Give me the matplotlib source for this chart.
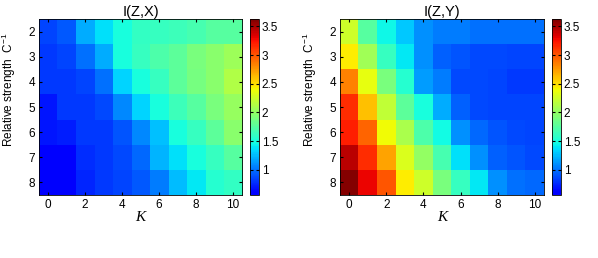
import numpy as np
import matplotlib
matplotlib.use("Agg")
import matplotlib.pyplot as plt
from matplotlib.colors import ListedColormap

plt.rcParams['font.family'] = ['Liberation Sans', 'DejaVu Sans']
plt.rcParams['mathtext.fontset'] = 'custom'
plt.rcParams['mathtext.rm'] = 'Liberation Sans'
plt.rcParams['mathtext.it'] = 'Liberation Sans:italic'

# data: rows are C = 2..8, columns are K = 0..10
K = np.arange(0, 11)
C = np.arange(2, 9)

I_ZX = np.array([
    [0.85, 0.92, 1.20, 1.38, 1.50, 1.60, 1.62, 1.65, 1.68, 1.75, 1.75],
    [0.82, 0.85, 1.00, 1.20, 1.50, 1.62, 1.72, 1.78, 1.90, 1.97, 2.05],
    [0.80, 0.82, 0.85, 1.00, 1.33, 1.50, 1.62, 1.78, 1.88, 1.97, 2.12],
    [0.70, 0.80, 0.82, 0.87, 1.08, 1.33, 1.50, 1.65, 1.75, 1.90, 2.02],
    [0.70, 0.72, 0.80, 0.82, 0.90, 1.08, 1.27, 1.50, 1.62, 1.78, 1.97],
    [0.62, 0.62, 0.77, 0.82, 0.87, 0.97, 1.22, 1.38, 1.50, 1.62, 1.75],
    [0.57, 0.57, 0.75, 0.80, 0.85, 0.92, 1.05, 1.25, 1.40, 1.55, 1.60],
])

I_ZY = np.array([
    [2.25, 1.75, 1.45, 1.30, 1.10, 1.05, 1.05, 1.00, 1.00, 1.00, 1.00],
    [2.45, 2.07, 1.62, 1.40, 1.10, 0.95, 0.90, 0.87, 0.87, 0.85, 0.85],
    [2.85, 2.35, 1.90, 1.55, 1.15, 1.05, 0.87, 0.87, 0.85, 0.82, 0.82],
    [3.15, 2.62, 2.20, 1.78, 1.50, 1.20, 0.95, 0.87, 0.85, 0.85, 0.85],
    [3.20, 2.95, 2.40, 2.10, 1.70, 1.47, 1.10, 0.97, 0.90, 0.87, 0.85],
    [3.45, 3.15, 2.72, 2.30, 2.00, 1.68, 1.38, 1.10, 0.95, 0.90, 0.87],
    [3.60, 3.30, 3.00, 2.45, 2.25, 1.90, 1.62, 1.40, 1.10, 1.00, 0.97],
])

titles = ["I(Z,X)", "I(Z,Y)"]
cbar_ticks = [1, 1.5, 2, 2.5, 3, 3.5]
vmin, vmax = 0.56, 3.63

# jet starting from pure blue
cmap = ListedColormap(plt.cm.jet(np.linspace(0.11, 1.0, 256)))

fig = plt.figure(figsize=(5.98, 2.58), dpi=100)
ax_pos = [[0.0652, 0.2442, 0.3395, 0.682], [0.5686, 0.2442, 0.341, 0.682]]
cb_pos = [[0.418, 0.2442, 0.015, 0.682], [0.923, 0.2442, 0.015, 0.682]]

for i, data in enumerate([I_ZX, I_ZY]):
    ax = fig.add_axes(ax_pos[i])
    im = ax.imshow(data, cmap=cmap, vmin=vmin, vmax=vmax, aspect='auto',
                   interpolation='nearest',
                   extent=[K[0] - 0.5, K[-1] + 0.5, C[-1] + 0.5, C[0] - 0.5])
    ax.set_xticks(K[::2])
    ax.set_yticks(C)
    ax.tick_params(direction='in', length=2, labelsize=8.5, top=True, right=True, pad=3)
    ax.set_title(titles[i], fontsize=10.5, pad=2)
    ax.set_xlabel("K", fontsize=11, family='Liberation Serif', style='italic', labelpad=0)
    ax.set_ylabel(r"Relative strength  C$^{\mathrm{-1}}$", fontsize=8.5)
    ax.yaxis.set_label_coords(-0.105, 0.6)
    for s in ax.spines.values():
        s.set_linewidth(0.6)

    cax = fig.add_axes(cb_pos[i])
    cb = fig.colorbar(im, cax=cax, ticks=cbar_ticks)
    cb.ax.set_yticklabels(["1", "1.5", "2", "2.5", "3", "3.5"])
    cb.ax.tick_params(direction='in', length=2, labelsize=8.5, left=True, right=True, pad=2)
    cb.outline.set_linewidth(0.6)

fig.savefig("out.png", dpi=100)
